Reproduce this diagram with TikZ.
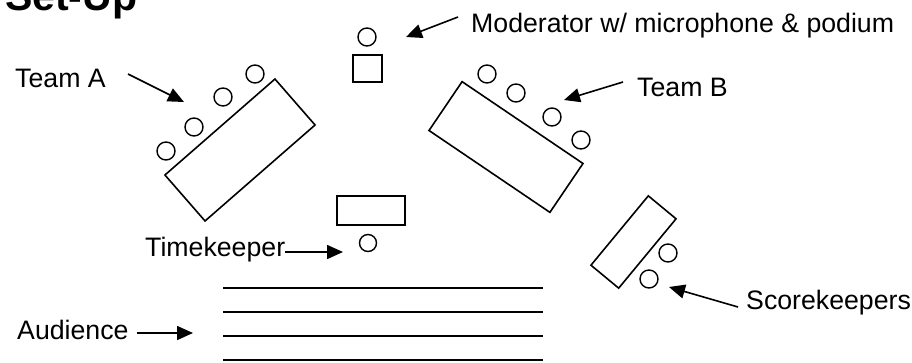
\documentclass[tikz,border=0pt]{standalone}
\usepackage{fontspec}
\setmainfont{Liberation Sans}
\usetikzlibrary{arrows.meta}

\tikzset{
    tbl/.style={draw, line width=1.6pt, inner sep=0pt, fill=white},
    chair/.style={draw, circle, line width=1.4pt, minimum size=18pt, inner sep=0pt},
    lbl/.style={anchor=base west, inner sep=0pt, font=\fontsize{26.7}{30}\selectfont},
    pointer/.style={line width=1.6pt, -{Triangle[length=16pt, width=14pt]}},
    row/.style={line width=1.8pt}
}

\begin{document}
\begin{tikzpicture}[x=1pt, y=-1pt]
    \useasboundingbox (0,0) rectangle (912,362);
    \clip (0,0) rectangle (912,362);

    % Title
    \node[anchor=base west, inner sep=0pt, font=\fontsize{41}{44}\selectfont\bfseries] (title) at (5,10) {Set-Up};

    % Team A
    \node[tbl, minimum width=146pt, minimum height=61pt, rotate=41.1] (tableA) at (240,150) {};
    \foreach \x/\y [count=\i] in {255/74, 223/97, 194/127, 166/151}
        \node[chair] (chairA\i) at (\x,\y) {};
    \node[lbl] (teamA) at (15,87) {Team A};
    \coordinate (tailA) at (128,74);
    \coordinate (tipA) at (184,102);
    \draw[pointer] (tailA) -- (tipA);

    % Moderator
    \node[chair] (moderator) at (367,37) {};
    \node[draw, line width=1.4pt, minimum width=29pt, minimum height=27pt, inner sep=0pt] (podium) at (367.5,68.5) {};
    \node[lbl] (moderatorlbl) at (471,32) {Moderator w/ microphone \& podium};
    \coordinate (tailM) at (458,17);
    \coordinate (tipM) at (406,37);
    \draw[pointer] (tailM) -- (tipM);

    % Team B
    \node[tbl, minimum width=146pt, minimum height=59pt, rotate=-34.1] (tableB) at (506,147) {};
    \foreach \x/\y [count=\i] in {487/74, 516/93, 552/117, 581/140}
        \node[chair] (chairB\i) at (\x,\y) {};
    \node[lbl] (teamB) at (637,96) {Team B};
    \coordinate (tailB) at (623,82);
    \coordinate (tipB) at (564,100);
    \draw[pointer] (tailB) -- (tipB);

    % Timekeeper
    \node[draw, line width=1.6pt, minimum width=68pt, minimum height=29pt, inner sep=0pt] (timetable) at (371,210.5) {};
    \node[chair, minimum size=17pt] (timekeeper) at (368,243) {};
    \node[lbl] (timelbl) at (145,256) {Timekeeper};
    \coordinate (tipT) at (343,252);
    \draw[pointer] (timelbl.base east) ++(0,-4) coordinate (tailT) -- (tipT);

    % Audience
    \foreach \y [count=\i] in {288, 312, 336, 360}
        \draw[row] (223,\y) coordinate (rowL\i) -- (543,\y) coordinate (rowR\i);
    \node[lbl] (audiencelbl) at (17,339) {Audience};
    \coordinate (tailU) at (137,333);
    \coordinate (tipU) at (193,333);
    \draw[pointer] (tailU) -- (tipU);

    % Scorekeepers
    \node[tbl, minimum width=90pt, minimum height=36pt, rotate=50.4] (scoretable) at (633.5,242) {};
    \node[chair] (scoreA) at (668,253) {};
    \node[chair] (scoreB) at (649,279) {};
    \node[lbl] (scorelbl) at (746,309) {Scorekeepers};
    \coordinate (tailS) at (738,307);
    \coordinate (tipS) at (669,287);
    \draw[pointer] (tailS) -- (tipS);
\end{tikzpicture}
\end{document}
